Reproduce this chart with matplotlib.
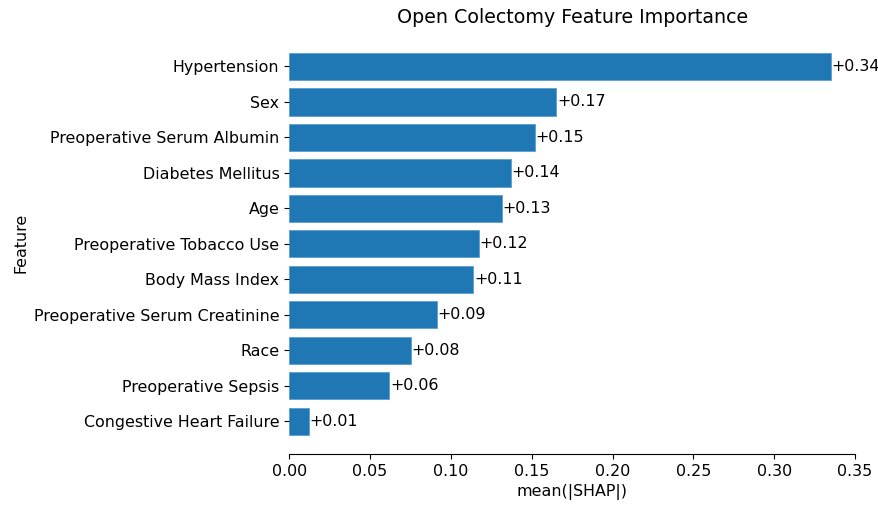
import matplotlib
matplotlib.use("Agg")
import matplotlib.pyplot as plt
import numpy as np

features = ["Congestive Heart Failure", "Preoperative Sepsis", "Race",
            "Preoperative Serum Creatinine", "Body Mass Index",
            "Preoperative Tobacco Use", "Age", "Diabetes Mellitus",
            "Preoperative Serum Albumin", "Sex", "Hypertension"]
shap_vals = [0.0123, 0.062, 0.0753, 0.0914, 0.114, 0.1175, 0.1315,
             0.1373, 0.152, 0.1652, 0.3352]

fs = 11.4

fig = plt.figure(figsize=(8.79, 5.08), dpi=100)
ax = fig.add_axes([0.329, 0.106, 0.6437, 0.833])

y = np.arange(len(features))
ax.barh(y, shap_vals, height=0.77, color="#1f77b4", edgecolor="#5a9fd4", linewidth=0.6)
for yi, v in zip(y, shap_vals):
    ax.text(v + 0.0004, yi, f"+{v:.2f}", va="center", ha="left", fontsize=fs)

ax.set_yticks(y)
ax.set_yticklabels(features, fontsize=fs)
ax.set_xlim(0, 0.35)
ax.set_ylim(-0.93, 11.0)
ticks = np.arange(0, 0.351, 0.05)
ax.set_xticks(ticks)
ax.set_xticklabels([f"{t:.2f}" for t in ticks], fontsize=fs)
for s in ["top", "right", "left"]:
    ax.spines[s].set_visible(False)
ax.set_xlabel("mean(|SHAP|)", fontsize=fs)
ax.set_ylabel("Feature", fontsize=fs)
ax.set_title("Open Colectomy Feature Importance", fontsize=13.7)

fig.savefig("out.png", dpi=100)
